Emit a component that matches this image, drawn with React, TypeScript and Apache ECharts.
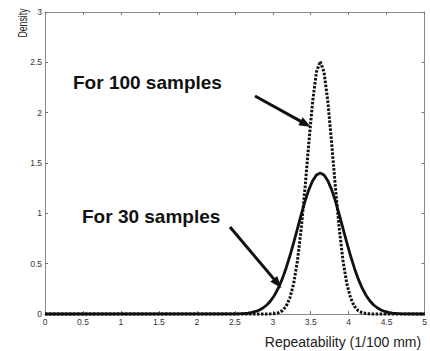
import React, { useEffect, useRef } from "react";
import * as echarts from "echarts";

// x positions (1/100 mm) where the curves were read
const xs = [
  0, 2.475, 2.525, 2.575, 2.625, 2.675, 2.725, 2.775, 2.825, 2.875, 2.925, 2.975,
  3.025, 3.075, 3.125, 3.175, 3.225, 3.275, 3.325, 3.375, 3.425, 3.475, 3.525, 3.575,
  3.625,
  3.675, 3.725, 3.775, 3.825, 3.875, 3.925, 3.975, 4.025, 4.075, 4.125, 4.175, 4.225,
  4.275, 4.325, 4.375, 4.425, 4.475, 4.525, 4.575, 4.625, 4.675, 4.725, 4.775, 5,
];

// density for 30 samples (solid)
const density30 = [
  0, 0.001, 0.002, 0.003, 0.005, 0.009, 0.016, 0.025, 0.04, 0.062, 0.092, 0.134,
  0.189, 0.261, 0.349, 0.455, 0.576, 0.709, 0.849, 0.989, 1.121, 1.236, 1.324, 1.381,
  1.4,
  1.381, 1.324, 1.236, 1.121, 0.989, 0.849, 0.709, 0.576, 0.455, 0.349, 0.261, 0.189,
  0.134, 0.092, 0.062, 0.04, 0.025, 0.016, 0.009, 0.005, 0.003, 0.002, 0.001, 0,
];

// density for 100 samples (dotted)
const density100 = [
  0, 0, 0, 0, 0, 0, 0, 0, 0, 0, 0, 0.002,
  0.005, 0.013, 0.033, 0.076, 0.158, 0.302, 0.529, 0.851, 1.256, 1.701, 2.111, 2.404,
  2.51,
  2.404, 2.111, 1.701, 1.256, 0.851, 0.529, 0.302, 0.158, 0.076, 0.033, 0.013, 0.005,
  0.002, 0, 0, 0, 0, 0, 0, 0, 0, 0, 0, 0,
];

const xLabel = "Repeatability (1/100 mm)";
const yLabel = "Density";
const note100 = "For 100 samples";
const note30 = "For 30 samples";

function arrow(x1: number, y1: number, x2: number, y2: number) {
  const dx = x2 - x1;
  const dy = y2 - y1;
  const len = Math.sqrt(dx * dx + dy * dy);
  const ux = dx / len;
  const uy = dy / len;
  const hl = 12;
  const hw = 4.5;
  const bx = x2 - ux * hl;
  const by = y2 - uy * hl;
  const px = -uy * hw;
  const py = ux * hw;
  return [
    {
      type: "line",
      shape: { x1, y1, x2: bx + ux * 2, y2: by + uy * 2 },
      style: { stroke: "#111", lineWidth: 3 },
      z: 20,
    },
    {
      type: "polygon",
      shape: {
        points: [
          [x2, y2],
          [bx + px, by + py],
          [bx - px, by - py],
        ],
      },
      style: { fill: "#111" },
      z: 20,
    },
  ];
}

export default function App() {
  const ref = useRef<HTMLDivElement>(null);
  useEffect(() => {
    if (!ref.current) return;
    const chart = echarts.init(ref.current, null, { renderer: "svg" });
    const frame = { show: true, onZero: false, lineStyle: { color: "#8a8a8a", width: 1 } };
    const tickIn = { show: true, inside: true, length: 3, lineStyle: { color: "#777" } };
    const lbl = { fontSize: 8.5, color: "#333", fontFamily: "Liberation Sans" };
    chart.setOption({
      animation: false,
      backgroundColor: "#fff",
      grid: { left: 45, right: 1, top: 12, bottom: 37, containLabel: false },
      xAxis: [
        {
          type: "value",
          min: 0,
          max: 5,
          interval: 0.5,
          axisLine: frame,
          axisTick: tickIn,
          splitLine: { show: false },
          axisLabel: { ...lbl, margin: 3 },
        },
        {
          type: "value",
          position: "top",
          min: 0,
          max: 5,
          interval: 0.5,
          axisLine: frame,
          axisTick: tickIn,
          splitLine: { show: false },
          axisLabel: { show: false },
        },
      ],
      yAxis: [
        {
          type: "value",
          min: 0,
          max: 3,
          interval: 0.5,
          axisLine: frame,
          axisTick: tickIn,
          splitLine: { show: false },
          axisLabel: { ...lbl, margin: 3 },
        },
        {
          type: "value",
          position: "right",
          min: 0,
          max: 3,
          interval: 0.5,
          axisLine: frame,
          axisTick: tickIn,
          splitLine: { show: false },
          axisLabel: { show: false },
        },
      ],
      series: [
        {
          name: note30,
          type: "line",
          data: xs.map((x, i) => [x, density30[i]]),
          showSymbol: false,
          clip: false,
          lineStyle: { color: "#111", width: 2.8 },
          z: 3,
        },
        {
          name: note100,
          type: "line",
          data: xs.map((x, i) => [x, density100[i]]),
          showSymbol: false,
          clip: false,
          lineStyle: { color: "#111", width: 3, type: [2.5, 1.5], cap: "butt" },
          z: 4,
        },
      ],
      graphic: [
        {
          type: "text",
          x: 22,
          y: 23,
          rotation: Math.PI / 2,
          scaleX: 0.7,
          style: {
            text: yLabel,
            fontSize: 12.5,
            fontFamily: "Liberation Sans",
            fill: "#222",
            align: "center",
            verticalAlign: "middle",
          },
        },
        {
          type: "text",
          x: 343,
          y: 342,
          style: {
            text: xLabel,
            fontSize: 14,
            fontFamily: "Liberation Sans",
            fill: "#222",
            align: "center",
            verticalAlign: "middle",
          },
        },
        {
          type: "text",
          x: 73,
          y: 82,
          style: {
            text: note100,
            fontSize: 19,
            fontWeight: "bold",
            fontFamily: "Liberation Sans",
            fill: "#111",
            align: "left",
            verticalAlign: "middle",
          },
        },
        {
          type: "text",
          x: 82,
          y: 216,
          style: {
            text: note30,
            fontSize: 19,
            fontWeight: "bold",
            fontFamily: "Liberation Sans",
            fill: "#111",
            align: "left",
            verticalAlign: "middle",
          },
        },
        ...arrow(255, 96, 311, 127),
        ...arrow(230, 227, 281.5, 288),
      ],
    });
    return () => chart.dispose();
  }, []);
  return (
    <div
      ref={ref}
      style={{ position: "fixed", left: 0, top: 0, width: 430, height: 351 }}
    />
  );
}
